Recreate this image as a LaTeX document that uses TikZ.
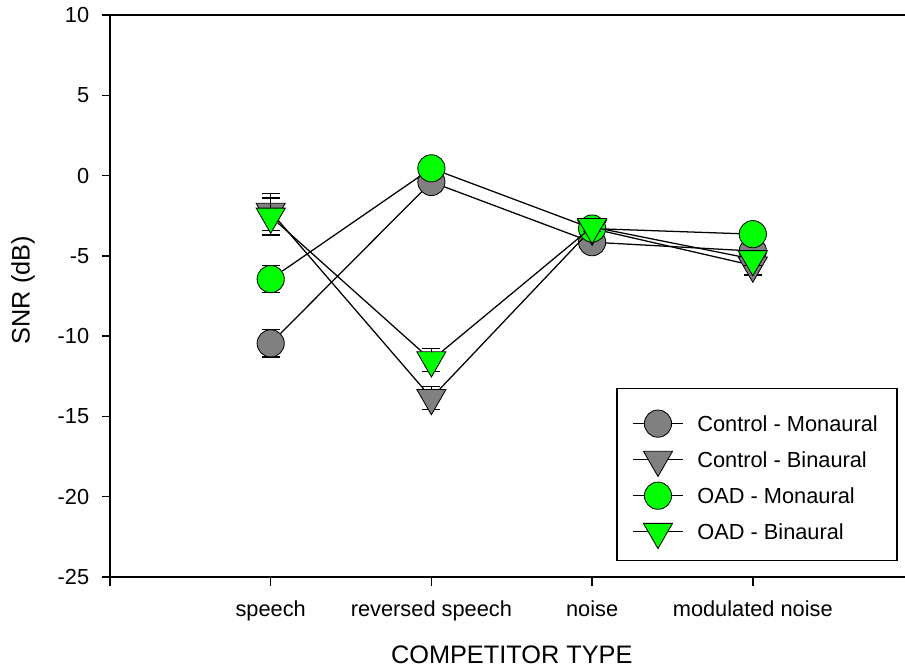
\documentclass[tikz,border=0pt]{standalone}
\usepackage{fontspec}
\setmainfont{Liberation Sans}
\usetikzlibrary{positioning,shapes.geometric}
\definecolor{ctrl}{RGB}{128,128,128}
\definecolor{oad}{RGB}{0,255,0}
\tikzset{
  axis/.style={line width=1.1pt},
  link/.style={line width=0.9pt},
  errbar/.style={line width=0.9pt},
  dot/.style={circle,draw=black,fill=#1,line width=0.6pt,minimum size=6.8mm,inner sep=0pt},
  dot/.default=ctrl,
  tri/.style={regular polygon,regular polygon sides=3,shape border rotate=180,
    draw=black,fill=#1,line width=0.6pt,minimum size=8.4mm,inner sep=0pt},
  tri/.default=ctrl,
  lbl/.style={font=\fontsize{15.5}{18}\selectfont,inner sep=0pt},
  title/.style={font=\fontsize{18}{21}\selectfont,inner sep=0pt},
}
\begin{document}
\begin{tikzpicture}[x=4.0175cm,y=0.4014cm]
    \useasboundingbox (-0.6845,-30.857) rectangle (4.9471,10.934);
    % axes
    \draw[axis] (4.9471,10) -- (0,10) -- (0,-25) -- (4.9471,-25);
    \foreach \t [count=\k] in {10,5,...,-25}
      \draw[axis] (0,\t) -- ++(-0.2cm,0) node[lbl,anchor=east,xshift=-0.3cm] (yl\k) {\t};
    \foreach \i/\t in {0/,1/speech,2/reversed speech,3/noise,4/modulated noise}{
      \draw[axis] (\i,-25) -- ++(0,-0.225cm);
      \node[lbl,anchor=base,yshift=-1.0cm] (xl\i) at (\i,-25) {\t};
    }
    \node[title,rotate=90] (ylab) at (-0.541,-7.13) {SNR (dB)};
    \node[title] (xlab) at (2.5,-29.86) {COMPETITOR TYPE};
    % Control - Monaural
    \foreach \i/\v/\e in {1/-10.45/0.85,2/-0.4/0.4,3/-4.15/0.3,4/-4.7/0.3}{
      \draw[errbar] (\i,\v-\e) -- (\i,\v+\e) (\i,\v-\e) ++(-0.225cm,0) -- ++(0.45cm,0)
        (\i,\v+\e) ++(-0.225cm,0) -- ++(0.45cm,0);
      \node[dot=ctrl] (cm\i) at (\i,\v) {};
    }
    \draw[link] (cm1) -- (cm2) -- (cm3) -- (cm4);
    % Control - Binaural
    \foreach \i/\v/\e in {1/-2.25/1.15,2/-13.85/0.72,3/-3.3/0.3,4/-5.6/0.6}{
      \draw[errbar] (\i,\v-\e) -- (\i,\v+\e) (\i,\v-\e) ++(-0.225cm,0) -- ++(0.45cm,0)
        (\i,\v+\e) ++(-0.225cm,0) -- ++(0.45cm,0);
      \node[tri=ctrl] (cb\i) at (\i,\v) {};
    }
    \draw[link] (cb1) -- (cb2) -- (cb3) -- (cb4);
    % OAD - Monaural
    \foreach \i/\v/\e in {1/-6.45/0.85,2/0.45/0.4,3/-3.3/0.3,4/-3.65/0.3}{
      \draw[errbar] (\i,\v-\e) -- (\i,\v+\e) (\i,\v-\e) ++(-0.225cm,0) -- ++(0.45cm,0)
        (\i,\v+\e) ++(-0.225cm,0) -- ++(0.45cm,0);
      \node[dot=oad] (om\i) at (\i,\v) {};
    }
    \draw[link] (om1) -- (om2) -- (om3) -- (om4);
    % OAD - Binaural
    \foreach \i/\v/\e in {1/-2.55/1.15,2/-11.5/0.72,3/-3.2/0.3,4/-5.2/0.4}{
      \draw[errbar] (\i,\v-\e) -- (\i,\v+\e) (\i,\v-\e) ++(-0.225cm,0) -- ++(0.45cm,0)
        (\i,\v+\e) ++(-0.225cm,0) -- ++(0.45cm,0);
      \node[tri=oad] (ob\i) at (\i,\v) {};
    }
    \draw[link] (ob1) -- (ob2) -- (ob3) -- (ob4);
    % legend
    \draw[line width=0.8pt] (3.155,-13.27) rectangle (4.897,-24.0);
    \foreach \st/\c/\t [count=\k] in {dot/ctrl/Control - Monaural,tri/ctrl/Control - Binaural,
      dot/oad/OAD - Monaural,tri/oad/OAD - Binaural}{
      \pgfmathsetmacro\yy{-15.45-(\k-1)*2.245}
      \coordinate (la\k) at (3.254,\yy);
      \coordinate (lb\k) at (3.566,\yy);
      \draw[link] (la\k) -- (lb\k);
      \node[\st=\c] (lm\k) at (3.41,\yy) {};
      \node[lbl,anchor=west] (lt\k) at (3.653,\yy) {\t};
    }
\end{tikzpicture}
\end{document}
